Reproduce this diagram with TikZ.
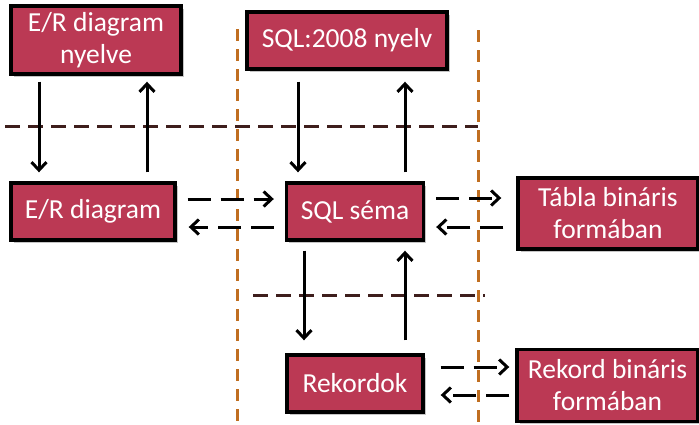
\documentclass[tikz,border=0pt]{standalone}
\usepackage{fontspec}
\setmainfont{Carlito}
\usetikzlibrary{arrows.meta,shadows}
\definecolor{boxred}{RGB}{187,57,84}
\definecolor{guidebrown}{RGB}{62,30,28}
\definecolor{guideorange}{RGB}{192,110,32}
\tikzset{
  block/.style={draw=black, line width=3.4pt, fill=boxred, text=white,
    font=\fontsize{27.5}{32}\selectfont, align=center, inner sep=0pt,
    drop shadow={shadow xshift=2.5pt, shadow yshift=-2.5pt, fill=black!45, opacity=0.5}},
  arr/.style={line width=3pt, -{Straight Barb[length=8pt,width=15pt,line width=3pt]}},
  darr/.style={arr, dash pattern=on 23pt off 10pt},
  hguide/.style={guidebrown, line width=3pt, dash pattern=on 15pt off 8pt},
  vguide/.style={guideorange, line width=3pt, dash pattern=on 12pt off 8pt},
}
\begin{document}
\begin{tikzpicture}[x=1pt, y=-1pt]
\useasboundingbox (0,0) rectangle (699,424);

% level separators
\draw[vguide] (237,29) -- (237,424);
\draw[vguide] (478,30) -- (478,424);
\draw[hguide] (5,126) -- (478,126);
\draw[hguide] (253,295) -- (485,295);

% boxes
\node[block, minimum width=170pt, minimum height=68pt] (ernyelv) at (96,40) {E/R diagram\\nyelve};
\node[block, minimum width=200pt, minimum height=57pt] (sqlnyelv) at (347,40.5) {SQL:2008 nyelv};
\node[block, minimum width=164pt, minimum height=57pt] (er) at (93,211.5) {E/R diagram};
\node[block, minimum width=137pt, minimum height=57pt] (sema) at (355,211.5) {SQL séma};
\node[block, minimum width=180pt, minimum height=71pt] (tabla) at (608,213.5) {Tábla bináris\\formában};
\node[block, minimum width=136pt, minimum height=57pt] (rek) at (355,383.5) {Rekordok};
\node[block, minimum width=181pt, minimum height=72pt] (rekbin) at (607.5,385.5) {Rekord bináris\\formában};

% vertical transitions
\draw[arr, shorten <=6pt, shorten >=9pt] ([xshift=-57pt]ernyelv.south) -- ([xshift=-54pt]er.north);
\draw[arr, shorten <=9pt, shorten >=6pt] ([xshift=54pt]er.north) -- ([xshift=51pt]ernyelv.south);
\draw[arr, shorten <=11pt, shorten >=9pt] ([xshift=-49pt]sqlnyelv.south) -- ([xshift=-57pt]sema.north);
\draw[arr, shorten <=9pt, shorten >=11pt] ([xshift=50pt]sema.north) -- ([xshift=58pt]sqlnyelv.south);
\draw[arr, shorten <=9pt, shorten >=13pt] ([xshift=-51pt]sema.south) -- ([xshift=-51pt]rek.north);
\draw[arr, shorten <=13pt, shorten >=9pt] ([xshift=50pt]rek.north) -- ([xshift=50pt]sema.south);

% horizontal transitions
\draw[darr, shorten <=11pt, shorten >=11pt] ([yshift=12.5pt]er.east) -- ([yshift=12.5pt]sema.west);
\draw[darr, shorten <=11pt, shorten >=12pt] ([yshift=-15.5pt]sema.west) -- ([yshift=-15.5pt]er.east);
\draw[darr, shorten <=11pt, shorten >=15pt] ([yshift=13.5pt]sema.east) -- ([yshift=15.5pt]tabla.west);
\draw[darr, shorten <=13pt, shorten >=11pt] ([yshift=-13.5pt]tabla.west) -- ([yshift=-15.5pt]sema.east);
\draw[darr, shorten <=16pt, shorten >=6pt] ([yshift=16.5pt]rek.east) -- ([yshift=18.5pt]rekbin.west);
\draw[darr, shorten <=6pt, shorten >=16pt] ([yshift=-9.5pt]rekbin.west) -- ([yshift=-11.5pt]rek.east);
\end{tikzpicture}
\end{document}
